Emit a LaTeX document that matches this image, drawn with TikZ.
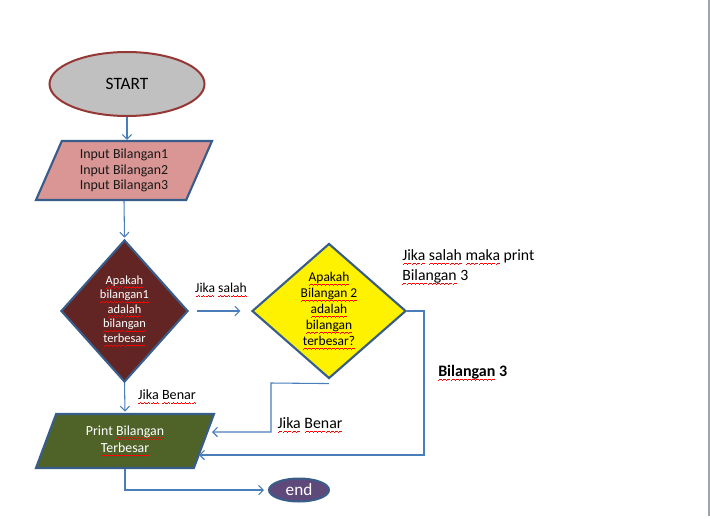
\documentclass[tikz,border=0pt]{standalone}
\usepackage{fontspec}
\setmainfont{Carlito}
\usetikzlibrary{shapes.geometric, arrows.meta}

\definecolor{linkblue}{HTML}{4A7EBB}
\definecolor{shapeblue}{HTML}{385D8A}
\definecolor{startred}{HTML}{953735}
\definecolor{startgray}{HTML}{C0C0C0}
\definecolor{inputpink}{HTML}{D99694}
\definecolor{maroon}{HTML}{632523}
\definecolor{olive}{HTML}{4F6228}
\definecolor{endpurple}{HTML}{5F497A}
\definecolor{pageedge}{HTML}{A0A4AB}

% red wavy spell-check underline, built from small rules
\newcommand\wavebit{\rule[-3.3pt]{0.75pt}{0.55pt}\rule[-2.8pt]{0.75pt}{0.55pt}\rule[-2.3pt]{0.75pt}{0.55pt}\rule[-2.8pt]{0.75pt}{0.55pt}}
\newcommand\spell[1]{\setbox0\hbox{#1}\leavevmode\rlap{\textcolor{red}{\hbox to\wd0{\xleaders\hbox{\wavebit}\hfil}}}#1}

\begin{document}
\begin{tikzpicture}[x=0.75pt, y=-0.75pt,
    con/.style={draw=linkblue, line width=0.8pt, -{Straight Barb[length=3.5pt,width=7pt]}},
    fbox/.style={draw=shapeblue, line width=1.6pt, inner sep=0pt, align=center},
    slanted/.style={fbox, trapezium, trapezium stretches body}]
            \useasboundingbox (0,0) rectangle (710,518);
            \draw[pageedge, line width=1.5pt] (708.5,0) -- (708.5,516);

            \node[ellipse, draw=startred, line width=1.5pt, fill=startgray, minimum width=116.25pt, minimum height=48pt,
                font=\fontsize{13}{15}\selectfont] (start) at (127,84) {START};

            \node[slanted, fill=inputpink, text=black!90, minimum width=132pt, minimum height=44.25pt,
                trapezium left angle=59, trapezium right angle=121, font=\fontsize{10.4}{11.6}\selectfont]
                (input) at (124,170.5) {Input Bilangan1\\Input Bilangan2\\Input Bilangan3};

            \node[fbox, diamond, fill=maroon, text=white, minimum width=95.25pt, minimum height=106.5pt,
                font=\fontsize{9.3}{10.9}\selectfont] (tanya1) at (124.5,311)
                {\spell{Apakah}\\\spell{bilangan1}\\\spell{adalah}\\\spell{bilangan}\\\spell{terbesar}};

            \node[fbox, diamond, fill=yellow, text=black, minimum width=115.5pt, minimum height=101.25pt,
                font=\fontsize{10.1}{12}\selectfont] (tanya2) at (329,311)
                {\spell{Apakah}\\\spell{Bilangan 2}\\\spell{adalah}\\\spell{bilangan}\\\spell{terbesar?}};

            \node[slanted, fill=olive, text=white, minimum width=133.5pt, minimum height=40.5pt,
                trapezium left angle=57, trapezium right angle=123, font=\fontsize{10.4}{12.75}\selectfont]
                (cetak) at (125,441) {Print \spell{Bilangan}\\\spell{Terbesar}};

            \node[ellipse, draw=shapeblue, line width=1.5pt, fill=endpurple, text=white, inner sep=0pt,
                minimum width=45pt, minimum height=17.25pt, font=\fontsize{12.9}{14}\selectfont] (selesai) at (299,490) {end};

            % labels
            \node[font=\fontsize{10.2}{12}\selectfont] (lsalah) at (221,290) {\spell{Jika} \spell{salah}};
            \node[font=\fontsize{10.6}{12}\selectfont] (lbenar1) at (167,397) {\spell{Jika} \spell{Benar}};
            \node[font=\fontsize{11.9}{14}\selectfont] (lbenar2) at (310,425) {\spell{Jika} \spell{Benar}};
            \node[anchor=west, align=left, inner sep=0pt, font=\fontsize{11.8}{15}\selectfont] (lprint) at (402,267)
                {\spell{Jika} \spell{salah} \spell{maka} print\\\spell{Bilangan} 3};
            \node[anchor=west, inner sep=0pt, font=\fontsize{12}{14}\selectfont\bfseries] (lbil3) at (438,373)
                {\spell{Bilangan} 3};

            % corner points of the elbow lines
            \coordinate (benar2) at (271,383);
            \coordinate (benar2tip) at (212,432);
            \coordinate (salah2) at (424,311);
            \coordinate (salah2tip) at (199,455);

            \draw[con] (start.south) -- (start.south |- input.north);
            \draw[con] (input.south) -- ([yshift=1pt]tanya1.north);
            \draw[con, shorten <=6pt, shorten >=8pt] (tanya1.east) -- (tanya2.west);
            \draw[con] (tanya1.south) -- ([yshift=1pt]cetak.north);
            \draw[con] ([yshift=-3pt]tanya2.south) -- (benar2) |- (benar2tip);
            \draw[con] (tanya2.east) -- (salah2) |- (salah2tip);
            \draw[con] (cetak.south) |- ([xshift=-3pt]selesai.west);
      \end{tikzpicture}
\end{document}
